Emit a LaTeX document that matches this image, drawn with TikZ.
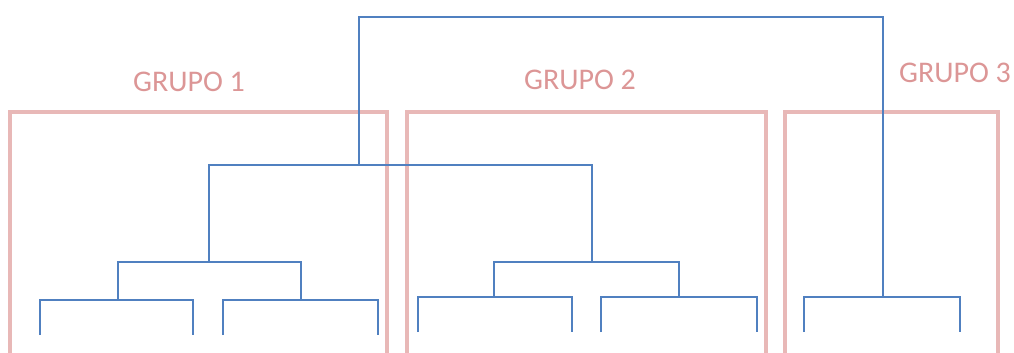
\documentclass[tikz,border=0pt]{standalone}
\usepackage{fontspec}
\setmainfont{Carlito}
\definecolor{boxpink}{RGB}{232,184,183}
\definecolor{labelpink}{RGB}{220,150,150}
\definecolor{treeblue}{RGB}{80,128,192}
\begin{document}
\begin{tikzpicture}[x=1pt,y=-1pt,
  grupo/.style={draw=boxpink,line width=3.2pt},
  glabel/.style={text=labelpink,font=\fontsize{30}{30}\selectfont,inner sep=0pt,anchor=base},
  branch/.style={draw=treeblue,line width=2pt,line cap=butt,line join=miter}]
\useasboundingbox (0,0) rectangle (1014,353);
% group boxes (open at bottom)
\draw[grupo] (10,360) -- (10,112) -- (387,112) -- (387,360);
\draw[grupo] (407,360) -- (407,112) -- (766,112) -- (766,360);
\draw[grupo] (785,360) -- (785,112) -- (998,112) -- (998,360);
\node[glabel] (g1) at (189,92) {GRUPO 1};
\node[glabel] (g2) at (580,89) {GRUPO 2};
\node[glabel] (g3) at (955,82) {GRUPO 3};
% junction coordinates
\coordinate (root) at (621,17);
\coordinate (a) at (359,165);
\coordinate (b) at (883,297);
\coordinate (a1) at (209,262);
\coordinate (a2) at (592,262);
\coordinate (l1) at (118,300);
\coordinate (l2) at (301,300);
\coordinate (m1) at (494,297);
\coordinate (m2) at (679,297);
% leaves
\coordinate (l1a) at (40,335);  \coordinate (l1b) at (193,335);
\coordinate (l2a) at (223,335); \coordinate (l2b) at (378,335);
\coordinate (m1a) at (418,332); \coordinate (m1b) at (572,332);
\coordinate (m2a) at (601,332); \coordinate (m2b) at (757,332);
\coordinate (ba) at (804,332);  \coordinate (bb) at (960,332);
% tree
\draw[branch] (a) |- (root) -| (b);
\draw[branch] (a1) |- (a) -| (a2);
\draw[branch] (l1) |- (a1) -| (l2);
\draw[branch] (m1) |- (a2) -| (m2);
\draw[branch] (l1a) |- (l1) -| (l1b);
\draw[branch] (l2a) |- (l2) -| (l2b);
\draw[branch] (m1a) |- (m1) -| (m1b);
\draw[branch] (m2a) |- (m2) -| (m2b);
\draw[branch] (ba) |- (b) -| (bb);
\end{tikzpicture}
\end{document}
